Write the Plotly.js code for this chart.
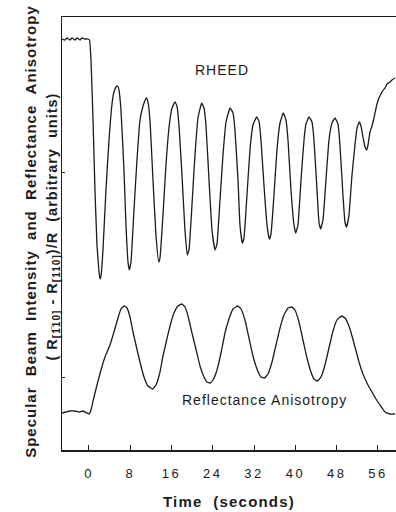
<!DOCTYPE html>
<html><head><meta charset="utf-8">
<script src="https://cdn.plot.ly/plotly-3.0.1.min.js"></script>
<style>
html,body{margin:0;padding:0;background:#fff}
#chart{width:396px;height:512px}
.xtick text{letter-spacing:2.5px}
text.xtitle{letter-spacing:1.2px}
text.annotation-text{letter-spacing:1px}
</style></head><body><div id="chart"></div>
<script>
// RHEED specular beam intensity (arbitrary units) vs time (s)
const rheedTime = [
 -5.23,-4.65,-4.26,-3.68,-3.29,-2.71,-2.33,-1.74,-1.36,-0.78,
 -0.19,0.10,0.39,0.78,1.16,1.55,1.94,2.13,2.33,2.71,
 3.29,3.88,4.46,4.84,5.23,5.56,5.81,6.20,6.78,7.17,
 7.56,7.81,8.14,8.72,9.30,9.88,10.27,10.66,11.14,11.43,
 11.82,12.40,12.98,13.51,13.76,14.34,14.92,15.50,16.09,16.67,
 17.05,17.44,18.02,18.60,19.05,19.38,19.96,20.54,21.12,21.84,
 22.29,22.67,23.26,23.84,24.42,24.81,25.39,25.97,26.55,27.33,
 27.91,28.29,28.88,29.26,29.71,30.04,30.62,31.20,31.78,32.50,
 32.95,33.33,33.91,34.50,34.94,35.27,35.85,36.43,37.02,37.66,
 38.18,38.57,39.15,39.73,40.06,40.50,41.09,41.67,42.05,42.64,
 43.22,43.60,44.19,44.57,44.90,45.35,45.93,46.51,47.09,47.67,
 48.26,48.64,49.22,49.61,49.94,50.39,50.97,51.55,51.94,52.38,
 52.71,53.10,53.49,53.82,54.07,54.46,54.79,55.23,55.76,56.20,
 56.59,57.03,57.36,57.75,58.00,58.33,58.72,59.30
];
const rheedIntensity = [
 411,410,412,410,412,410,412,410,412,411,
 411,410,390,330,260,205,178,171,174,200,
 260,310,346,358,363,364,360,340,280,225,
 188,180,188,240,290,330,340,347,352,348,
 330,270,215,188,192,235,285,322,342,348,
 344,325,275,220,195,200,245,295,332,347,
 342,325,270,220,200,206,250,295,328,342,
 337,320,270,225,207,212,255,300,325,333,
 329,310,265,225,211,216,255,300,327,337,
 330,310,260,225,217,225,270,310,326,333,
 328,310,260,228,221,230,270,310,327,332,
 326,305,255,228,223,235,275,305,322,328,
 324,313,303,300,305,318,323,332,345,352,
 356,360,362,366,367,368,370,372
];
// Reflectance anisotropy (R[-110]-R[110])/R (arbitrary units) vs time (s)
const raTime = [
 -5.23,-4.46,-3.68,-2.71,-1.94,-1.16,-0.39,0.06,0.39,0.83,
 1.55,2.33,3.10,4.07,4.84,5.62,6.20,6.84,7.36,7.95,
 8.53,9.24,9.88,10.66,11.43,12.34,12.98,13.76,14.34,15.06,
 15.70,16.47,17.25,17.97,18.60,19.19,19.96,20.87,21.51,22.29,
 22.87,23.45,24.03,24.81,25.58,26.36,27.13,27.91,28.82,29.46,
 30.23,31.01,31.78,32.56,33.33,33.97,34.69,35.47,36.24,37.02,
 37.79,38.57,39.28,39.92,40.70,41.47,42.25,43.02,43.60,44.24,
 44.96,45.74,46.51,47.29,48.06,48.97,49.61,50.39,50.97,51.55,
 52.33,53.10,54.07,54.84,55.62,56.40,57.36,58.33,59.30
];
const raSignal = [
 37,38,39,39,38,39,37,36,40,50,
 65,80,93,105,118,132,141,144,142,133,
 118,102,88,73,64,61,65,78,94,110,
 124,137,144,146,143,134,117,98,84,73,
 68,67,70,80,97,117,131,141,144,141,
 130,112,94,81,73,72,76,88,105,122,
 135,142,143,140,128,110,92,78,71,69,
 73,85,102,119,130,134,132,124,114,103,
 88,76,65,58,51,45,38,36,36
];
const tickValues = [0, 8, 16, 24, 32, 40, 48, 56];
const tickLabels = ['0', '8', '16', '24', '32', '40', '48', '56'];
const seriesNames = ['RHEED', 'Reflectance Anisotropy'];

const lineStyle = {color: '#1c1c1c', width: 1.3, shape: 'spline', smoothing: 0.35};
const traces = [
  {x: rheedTime, y: rheedIntensity, name: seriesNames[0], type: 'scatter', mode: 'lines', line: lineStyle, hoverinfo: 'skip'},
  {x: raTime, y: raSignal, name: seriesNames[1], type: 'scatter', mode: 'lines', line: lineStyle, hoverinfo: 'skip'}
];

const sp = '\u00a0';
const fam = 'Liberation Sans, Arial, sans-serif';
const layout = {
  width: 396, height: 512,
  margin: {l: 62, r: 0, t: 17, b: 62},
  paper_bgcolor: '#fff', plot_bgcolor: '#fff',
  showlegend: false,
  font: {family: fam, color: '#1c1c1c'},
  xaxis: {
    range: [-5.23, 59.5], showgrid: false, zeroline: false,
    showline: true, mirror: true, linecolor: '#1c1c1c', linewidth: 1.5,
    ticks: 'inside', ticklen: 5, tickwidth: 1, tickcolor: '#1c1c1c',
    tickvals: tickValues, ticktext: tickLabels,
    tickfont: {size: 13, family: fam, color: '#1c1c1c'},
    ticklabelstandoff: 11,
    title: {text: 'Time' + sp + sp + '(seconds)', font: {size: 15, weight: 'bold', family: fam}, standoff: 16}
  },
  yaxis: {
    range: [0, 433], showgrid: false, zeroline: false,
    showline: true, linecolor: '#1c1c1c', linewidth: 1.5,
    ticks: 'inside', ticklen: 3, tickwidth: 1, tickcolor: '#1c1c1c',
    tickvals: [73, 278], showticklabels: false
  },
  annotations: [
    {xref: 'x', yref: 'y', x: 25.8, y: 380, text: 'RHEED', showarrow: false,
     font: {size: 14, family: fam, color: '#1c1c1c'}},
    {xref: 'x', yref: 'y', x: 34.0, y: 50, text: 'Reflectance Anisotropy', showarrow: false,
     font: {size: 14, family: fam, color: '#1c1c1c'}},
    {xref: 'paper', yref: 'paper', x: 0, xshift: -42, y: 0.505, textangle: -90, showarrow: false,
     text: ['Specular', 'Beam', 'Intensity', 'and', 'Reflectance', 'Anisotropy'].join(sp + sp),
     font: {size: 15, weight: 'bold', family: fam, color: '#1c1c1c'}},
    {xref: 'paper', yref: 'paper', x: 0, xshift: -20, y: 0.516, textangle: -90, showarrow: false,
     text: '(' + sp + 'R<sub>[1\u0305' + '10]</sub>' + sp + '-' + sp + 'R<sub>[110]</sub>)/R' + sp + sp + '(arbitrary' + sp + sp + 'units)',
     font: {size: 14.5, weight: 'bold', family: fam, color: '#1c1c1c'}}
  ]
};

Plotly.newPlot('chart', traces, layout, {staticPlot: true, displayModeBar: false});
</script></body></html>
